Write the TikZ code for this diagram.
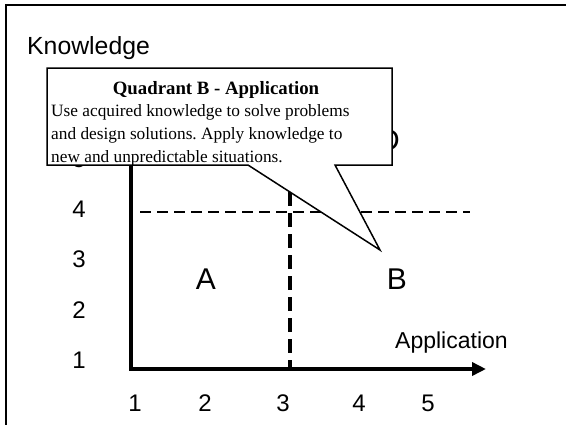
\documentclass[tikz,border=0pt]{standalone}
\usepackage{fontspec}
\setmainfont{Liberation Sans}
\newfontfamily\cserif{Liberation Serif}
\usetikzlibrary{arrows.meta}
\frenchspacing
\begin{document}
\begin{tikzpicture}[x=1pt,y=-1pt,
  lbl/.style={font=\fontsize{24}{24}\selectfont, inner sep=0pt, anchor=base},
  quadlbl/.style={font=\fontsize{30}{30}\selectfont, inner sep=0pt},
  axisline/.style={line width=4pt, line join=miter},
  thindash/.style={line width=1.5pt, dash pattern=on 11pt off 6pt},
  thickdash/.style={line width=3.5pt, dash pattern=on 14pt off 7pt},
  callbox/.style={line width=1.5pt, fill=white, line join=miter},
  ctext/.style={font=\cserif\fontsize{17.3}{17.3}\selectfont, inner sep=0pt, anchor=base west},
  ctitle/.style={font=\cserif\bfseries\fontsize{18.8}{18.8}\selectfont, inner sep=0pt, anchor=base}
]
\useasboundingbox (0,0) rectangle (566,424);
% frame
\draw[line width=2pt] (6,430) -- (6,5) -- (570,5);
% labels
\node[lbl, anchor=base west, font=\fontsize{24.8}{24.8}\selectfont] (know) at (27,54) {Knowledge};
\node[lbl, anchor=base west, font=\fontsize{23}{23}\selectfont] (appl) at (395,348) {Application};
\node[lbl] (y5) at (79,167) {5};
\node[lbl] (y4) at (79,217) {4};
\node[lbl] (y3) at (79,267) {3};
\node[lbl] (y2) at (79,318) {2};
\node[lbl] (y1) at (79,368) {1};
\node[lbl] (x1) at (135,411) {1};
\node[lbl] (x2) at (205,411) {2};
\node[lbl] (x3) at (283,411) {3};
\node[lbl] (x4) at (359,411) {4};
\node[lbl] (x5) at (428,411) {5};
\node[quadlbl] (qa) at (206,279) {A};
\node[quadlbl] (qb) at (397,279) {B};
\node[quadlbl] (qd) at (389,140) {D};
% axes
\coordinate (ytop) at (131,100);
\coordinate (orig) at (131,369);
\coordinate (xend) at (486,369);
\draw[axisline, -{Triangle[length=14pt,width=13pt]}] (ytop) -- (orig) -- (xend);
% dashed dividers
\coordinate (hd1) at (140,212);
\coordinate (hd2) at (470,212);
\coordinate (vd1) at (290,171);
\coordinate (vd2) at (290,369);
\draw[thindash] (hd1) -- (hd2);
\draw[thickdash] (vd1) -- (vd2);
% callout
\coordinate (c1) at (47,68);
\coordinate (c2) at (392,68);
\coordinate (c3) at (392,165);
\coordinate (p1) at (335,165);
\coordinate (tip) at (380,250);
\coordinate (p2) at (248,165);
\coordinate (c4) at (47,165);
\draw[callbox] (c1) -- (c2) -- (c3) -- (p1) -- (tip) -- (p2) -- (c4) -- cycle;
\node[ctitle] (title) at (216,94) {Quadrant B - Application};
\node[ctext] (l1) at (51,116) {Use acquired knowledge to solve problems};
\node[ctext] (l2) at (51,139) {and design solutions. Apply knowledge to};
\node[ctext] (l3) at (51,162) {new and unpredictable situations.};
\end{tikzpicture}
\end{document}
